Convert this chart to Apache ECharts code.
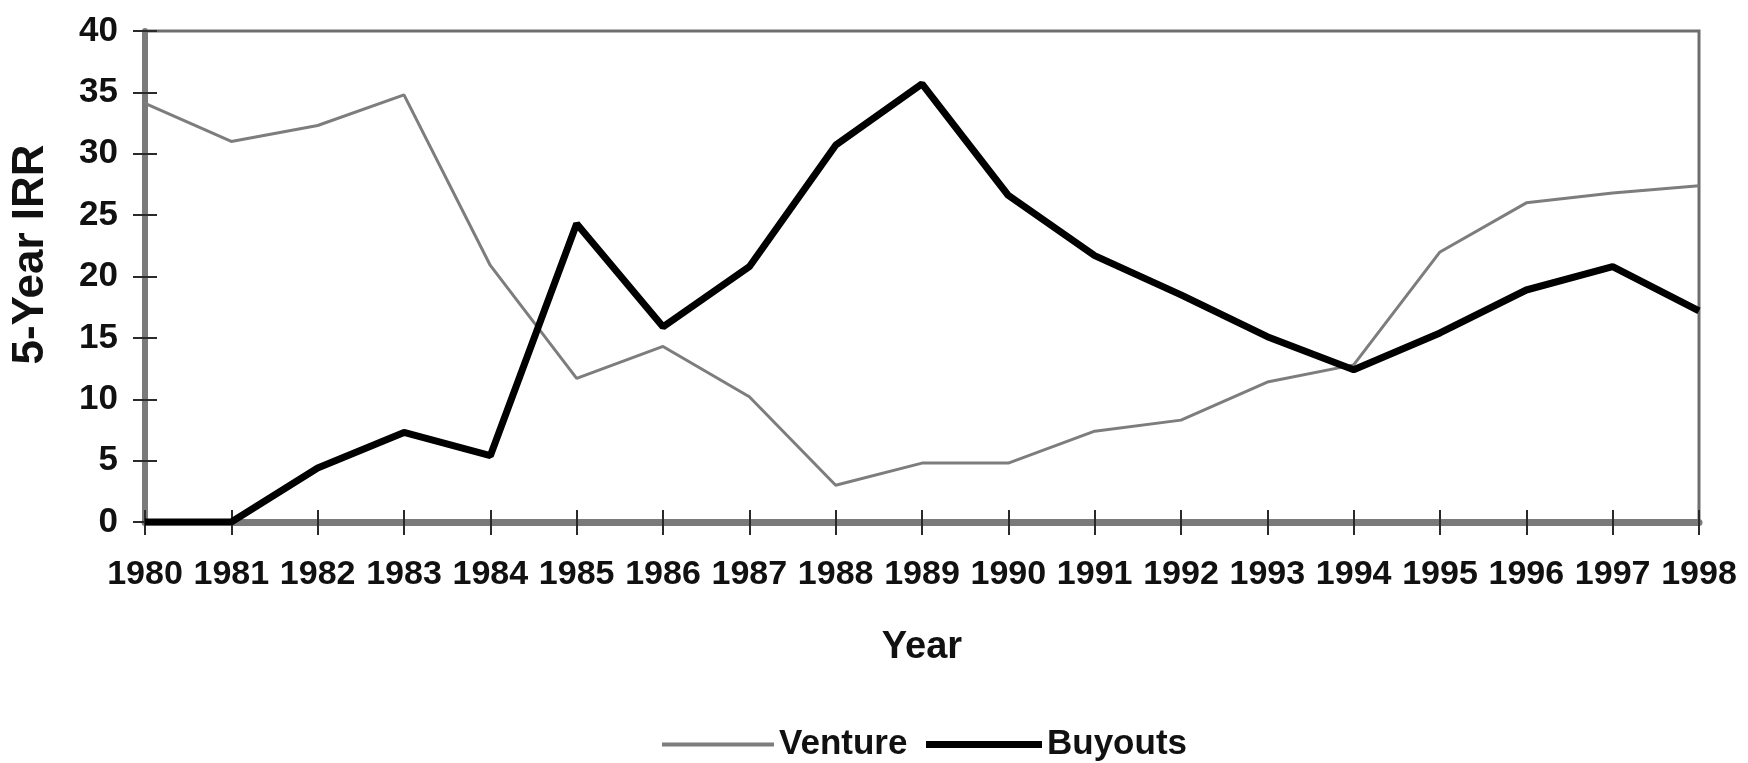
<!DOCTYPE html>
<html>
<head>
<meta charset="utf-8">
<script src="https://cdn.jsdelivr.net/npm/echarts@6/dist/echarts.min.js"></script>
<style>
html,body{margin:0;padding:0;background:#fff;}
#chart{width:1748px;height:763px;}
</style>
</head>
<body>
<div id="chart"></div>
<script>
const years = ['1980','1981','1982','1983','1984','1985','1986','1987','1988','1989','1990','1991','1992','1993','1994','1995','1996','1997','1998'];
const venture = [34.1, 31.0, 32.3, 34.8, 20.9, 11.7, 14.3, 10.2, 3.0, 4.8, 4.8, 7.4, 8.3, 11.4, 12.8, 22.0, 26.0, 26.8, 27.4];
const buyouts = [0, 0, 4.4, 7.3, 5.4, 24.3, 15.9, 20.8, 30.7, 35.7, 26.6, 21.7, 18.5, 15.1, 12.4, 15.4, 18.9, 20.8, 17.2];
const yTicks = {min: 0, max: 40, interval: 5};

const FONT = "'Liberation Sans', Arial, sans-serif";
const chart = echarts.init(document.getElementById('chart'));
const baseX = {
  type: 'category', data: years, boundaryGap: false, position: 'bottom'
};
const baseY = {
  type: 'value', min: yTicks.min, max: yTicks.max, interval: yTicks.interval, position: 'left'
};
const legendText = {fontFamily: FONT, fontWeight: 'bold', fontSize: 35, color: '#111'};
chart.setOption({
  animation: false,
  backgroundColor: '#fff',
  grid: {left: 145, right: 49, top: 31, bottom: 241, show: true, borderColor: '#6e6e6e', borderWidth: 3, containLabel: false},
  xAxis: [
    Object.assign({}, baseX, {
      name: 'Year', nameLocation: 'middle', nameGap: 107,
      nameTextStyle: {fontFamily: FONT, fontWeight: 'bold', fontSize: 38, color: '#111'},
      axisLine: {show: true, onZero: false, lineStyle: {color: '#7a7a7a', width: 7}},
      axisTick: {show: true, inside: false, length: 13, lineStyle: {color: '#2a2a2a', width: 2}},
      axisLabel: {interval: 0, margin: 36, fontFamily: FONT, fontWeight: 'bold', fontSize: 34, color: '#111'},
      splitLine: {show: false}
    }),
    Object.assign({}, baseX, {
      axisLine: {show: false},
      axisTick: {show: true, inside: true, length: 12, lineStyle: {color: '#2a2a2a', width: 2}},
      axisLabel: {show: false},
      splitLine: {show: false}
    })
  ],
  yAxis: [
    Object.assign({}, baseY, {
      name: '5-Year IRR', nameLocation: 'middle', nameGap: 92, nameRotate: 90,
      nameTextStyle: {fontFamily: FONT, fontWeight: 'bold', fontSize: 44, color: '#111', padding: [0, 0, 0, 44]},
      axisLine: {show: true, lineStyle: {color: '#7a7a7a', width: 6}},
      axisTick: {show: true, inside: false, length: 12, lineStyle: {color: '#2a2a2a', width: 2}},
      axisLabel: {margin: 27, fontFamily: FONT, fontWeight: 'bold', fontSize: 35, color: '#111'},
      splitLine: {show: false}
    }),
    Object.assign({}, baseY, {
      axisLine: {show: false},
      axisTick: {show: true, inside: true, length: 12, lineStyle: {color: '#2a2a2a', width: 2}},
      axisLabel: {show: false},
      splitLine: {show: false}
    })
  ],
  legend: [
    {left: 662, top: 727, padding: 0, icon: 'rect', itemWidth: 112, itemHeight: 4,
     textStyle: legendText, data: ['Venture']},
    {left: 926, top: 727, padding: 0, icon: 'rect', itemWidth: 116, itemHeight: 7,
     textStyle: legendText, data: ['Buyouts']}
  ],
  series: [
    {name: 'Venture', type: 'line', data: venture, xAxisIndex: 0, yAxisIndex: 0, showSymbol: false, symbol: 'none',
     lineStyle: {color: '#7d7d7d', width: 3}, itemStyle: {color: '#7d7d7d'}},
    {name: 'Buyouts', type: 'line', data: buyouts, xAxisIndex: 0, yAxisIndex: 0, showSymbol: false, symbol: 'none',
     lineStyle: {color: '#000', width: 7}, itemStyle: {color: '#000'}}
  ]
});
</script>
</body>
</html>
